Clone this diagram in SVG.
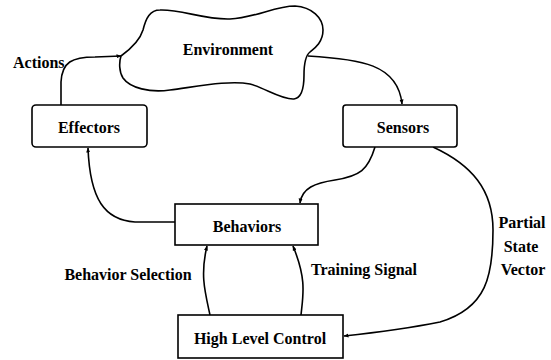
<svg xmlns="http://www.w3.org/2000/svg" width="551" height="360" viewBox="0 0 551 360">
<defs>
<style>
.box{fill:#fff;stroke:#000;stroke-width:1.6}
.ln{fill:none;stroke:#000;stroke-width:1.6}
.t{font-family:"Liberation Serif","Times New Roman",serif;font-weight:bold;font-size:16px;fill:#000}
.m{text-anchor:middle}
</style>
<marker id="ah" viewBox="0 0 10 10" refX="9" refY="5" markerWidth="5" markerHeight="5" orient="auto" markerUnits="userSpaceOnUse">
<path d="M0,1 L10,5 L0,9 z" fill="#000"/>
</marker>
</defs>
<rect width="551" height="360" fill="#fff"/>
<g id="connectors">
<path class="ln" marker-end="url(#ah)" d="M61,105 L61,82 C62,62 72,57 95,57 L121,56"/>
<path class="ln" marker-end="url(#ah)" d="M308,56 C360,59 398,64 402,104"/>
<path class="ln" marker-end="url(#ah)" d="M375,147 C368,170 360,176 335,180 C315,183 302,188 300,203"/>
<path class="ln" marker-end="url(#ah)" d="M175,222 L135,222 C105,220 90,200 88,148"/>
<path class="ln" marker-end="url(#ah)" d="M210,315 C205,292 200,275 207,246"/>
<path class="ln" marker-end="url(#ah)" d="M301,315 C303,295 307,280 293,246"/>
<path class="ln" marker-end="url(#ah)" d="M433,147 C472,165 493,190 493,230 C493,275 487,308 440,322 C400,330 372,333 344,336"/>
</g>
<g id="environment">
<path class="ln" d="M121,56 C132,48 140,40 143,30 C146,18 150,10 160,10 C180,9 205,20 230,19 C255,18 275,6 295,6 C312,7 323,18 323,30 C323,42 315,48 310,52 C305,56 304,64 304,75 C304,88 302,98 294,99 C282,100 265,88 250,84 C230,80 200,86 170,90 C150,93 130,88 123,78 C119,72 119,62 121,56 Z"/>
<text class="t m" x="228" y="55">Environment</text>
</g>
<g id="effectors">
<rect class="box" x="32" y="105" width="115" height="42" rx="4"/>
<text class="t m" x="89" y="133">Effectors</text>
</g>
<g id="sensors">
<rect class="box" x="343" y="105" width="114" height="42" rx="3"/>
<text class="t m" x="403" y="133">Sensors</text>
</g>
<g id="behaviors">
<rect class="box" x="175" y="204" width="143" height="41"/>
<text class="t m" x="247" y="232">Behaviors</text>
</g>
<g id="hlc">
<rect class="box" x="178" y="315" width="165" height="43"/>
<text class="t m" x="260" y="344">High Level Control</text>
</g>
<g id="labels">
<text class="t" x="13" y="68">Actions</text>
<text class="t m" x="128" y="280">Behavior Selection</text>
<text class="t m" x="364" y="275">Training Signal</text>
<text class="t m" x="522" y="228">Partial</text>
<text class="t m" x="521" y="252">State</text>
<text class="t m" x="523" y="275">Vector</text>
</g>
</svg>
